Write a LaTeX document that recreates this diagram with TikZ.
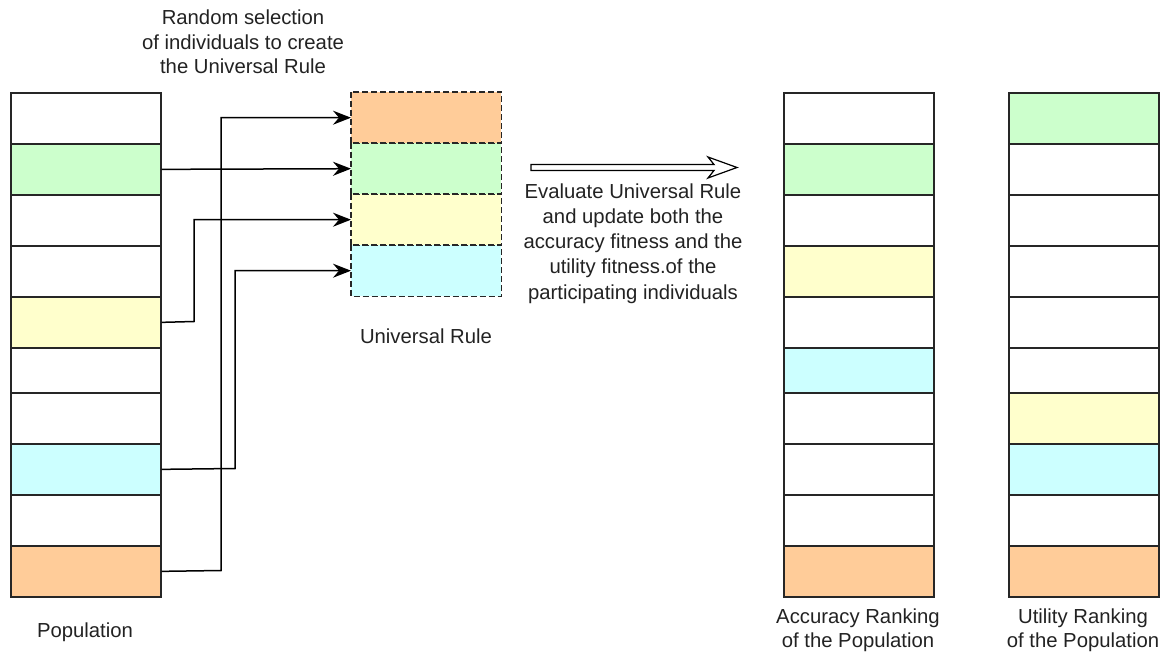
\documentclass[tikz,border=0pt]{standalone}
\usepackage{fontspec}
\setmainfont{Liberation Sans}
\usetikzlibrary{arrows.meta}
\definecolor{cgreen}{HTML}{CCFFCC}
\definecolor{cyellow}{HTML}{FFFFCC}
\definecolor{ccyan}{HTML}{CCFFFF}
\definecolor{corange}{HTML}{FFCC99}
\definecolor{txt}{HTML}{222222}
\tikzset{
  cell/.style={draw=black!85, line width=1.7pt, minimum width=150pt, inner sep=0pt, anchor=north west},
  urfill/.style={minimum width=150pt, minimum height=51pt, inner sep=0pt, anchor=north west},
  urline/.style={draw=black!85, line width=1.5pt, dash pattern=on 6pt off 3pt},
  arr/.style={draw=black, line width=1.5pt, -{Stealth[length=18pt,width=14pt,inset=6pt]}},
  lbl/.style={text=txt, align=center, inner sep=0pt, font=\fontsize{20.3}{24.5}\selectfont}
}
\begin{document}
\begin{tikzpicture}[x=1pt,y=-1pt]
\useasboundingbox (0,0) rectangle (1164,655);
% Population
\foreach \i/\t/\h/\c in {1/92/51/white,2/143/51/cgreen,3/194/51/white,4/245/51/white,5/296/51/cyellow,6/347/45/white,7/392/51/white,8/443/51/ccyan,9/494/51/white,10/545/51/corange}
  \node[cell, fill=\c, minimum height=\h pt] (p\i) at (10,\t) {};
% Accuracy ranking
\foreach \i/\t/\h/\c in {1/92/51/white,2/143/51/cgreen,3/194/51/white,4/245/51/cyellow,5/296/51/white,6/347/45/ccyan,7/392/51/white,8/443/51/white,9/494/51/white,10/545/51/corange}
  \node[cell, fill=\c, minimum height=\h pt] (a\i) at (783,\t) {};
% Utility ranking
\foreach \i/\t/\h/\c in {1/92/51/cgreen,2/143/51/white,3/194/51/white,4/245/51/white,5/296/51/white,6/347/45/white,7/392/51/cyellow,8/443/51/ccyan,9/494/51/white,10/545/51/corange}
  \node[cell, fill=\c, minimum height=\h pt] (t\i) at (1008,\t) {};
% Universal rule: fills first, dashed borders on top
\foreach \i/\t/\c in {1/92/corange,2/143/cgreen,3/194/cyellow,4/245/ccyan}
  \node[urfill, fill=\c] (u\i) at (351,\t) {};
\foreach \i in {1,2,3,4}
  \draw[urline] (u\i.north west) rectangle (u\i.south east);
% connectors
\draw[arr] (p2.east) -- (u2.west);
\draw[arr] (p10.east) -- (221,570.5) |- (u1.west);
\draw[arr] (p5.east) -- (194,321.5) |- (u3.west);
\draw[arr] (p8.east) -- (235,468.5) |- (u4.west);
% big double arrow
\draw[line width=1.2pt, fill=white] (531,164.5) -- (714,164.5) -- (708,157) -- (737,167.5) -- (708,178) -- (714,170.5) -- (531,170.5) -- cycle;
% labels
\node[lbl] (title) at (243,42) {Random selection\\of individuals to create\\the Universal Rule};
\node[lbl, font=\fontsize{20.3}{25.2}\selectfont] (eval) at (633,243.5) {Evaluate Universal Rule\\and update both the\\accuracy fitness and the\\utility fitness.of the\\participating individuals};
\node[lbl] (urlbl) at (426,336) {Universal Rule};
\node[lbl] (poplbl) at (85,632) {Population};
\node[lbl, font=\fontsize{20.3}{24}\selectfont] (acclbl) at (858,630) {Accuracy Ranking\\of the Population};
\node[lbl, font=\fontsize{20.3}{24}\selectfont] (utllbl) at (1083,630) {Utility Ranking\\of the Population};
\end{tikzpicture}
\end{document}
